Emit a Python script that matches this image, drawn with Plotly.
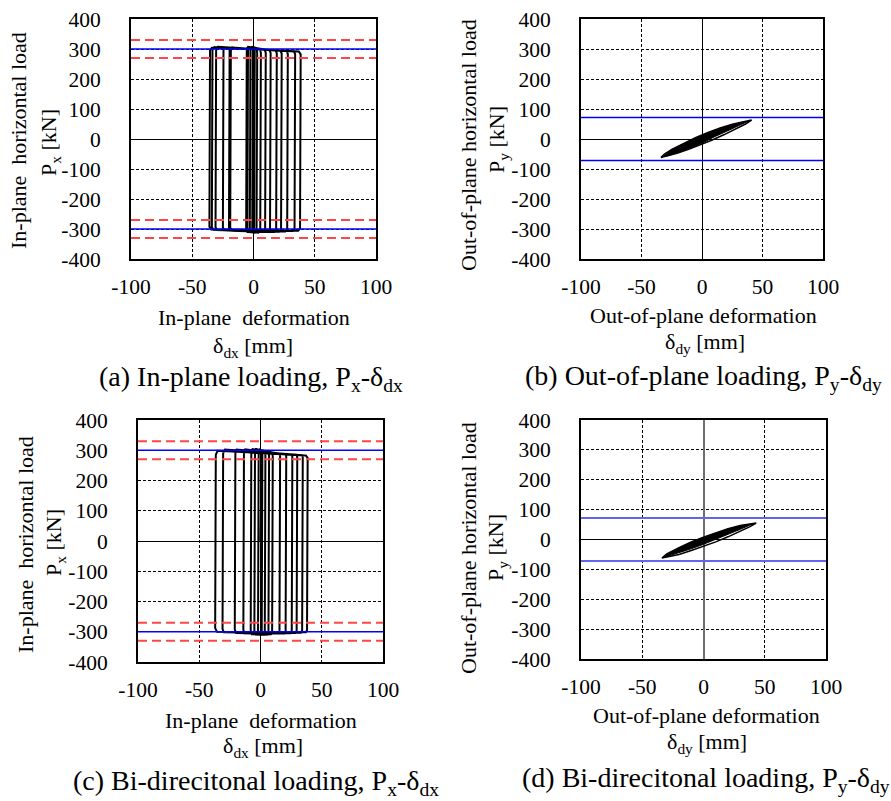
import plotly.graph_objects as go

# ---------------- data ----------------
x_ticks = [-100, -50, 0, 50, 100]
y_ticks = [-400, -300, -200, -100, 0, 100, 200, 300, 400]
x_range = [-100, 100]

# reference levels [kN]
blue_px = [300, -300]
red_px = [330, 270, -270, -330]
blue_py = [72, -72]

# (a) In-plane loading: hysteresis vertices (displacement mm, load kN)
a_disp = [0, 0.5, 1, 0.5, -0.5, -1, -0.5, 0.5, 2.5, 3, 2.5, 1, -2.5, -3,
          -2.5, -1, 5, 6, 5.5, 4, -4, -5, -4.5, -3.5, 9, 10, 9.5, 8, -5, -6,
          -5.5, -4.5, 13, 14, 13.5, 12, -17.5, -19, -18.5, -17, 18, 19, 18.5, 17,
          -18.5, -20, -19.5, -18, 22, 23, 22.5, 21, -23.5, -25, -24.5, -23, 27, 28,
          27.5, 26, -29.5, -31, -30.5, -29, 33, 34, 33.5, 32, -32.5, -34, -33.5, -32,
          37, 38.5, 38, 36.5, -34.5, -36, -35.5, -34, -2]
a_load = [0, 295, 290, -305, -310, -300, 300, 305, 298, 288, -305, -312, -310, -300,
          300, 307, 300, 288, -305, -312, -310, -300, 298, 306, 298, 288, -303, -310, -310, -298,
          300, 307, 296, 287, -303, -310, -306, -296, 298, 305, 295, 286, -302, -310,
          -306, -296, 298, 305, 294, 285, -302, -309, -305, -295, 298, 306, 293, 284,
          -302, -308, -304, -294, 298, 307, 292, 283, -300, -307, -303, -293, 298, 306,
          292, 282, -298, -306, -302, -292, 296, 304, 300]

# (c) Bi-directional loading, in-plane component
c_disp = [0, 1, 1.5, 1, 0, -1.5, -2, -1.5, -0.5, 3.5, 4, 3.5, 2.5, -4, -5,
          -4.5, -3.5, 6.5, 7, 6.5, 5.5, -7, -8, -7.5, -6.5, 9.5, 10, 9.5, 8.5, -4, -5,
          -4.5, -3.5, 15.5, 16, 15.5, 14.5, -13, -14, -13.5, -12.5, 20.5, 21, 20.5, 19.5,
          -20, -21, -20.5, -19.5, 25.5, 26, 25.5, 24.5, -30, -31, -30.5, -29, 29.5, 30,
          29.5, 28.5, -30, -31, -30.5, -29, 34, 34.5, 34, 33, -35.5, -37, -36.5, -35,
          37, 38.5, 38, 37, -30]
c_load = [0, 292, 285, -300, -310, -305, -295, 295, 302, 292, 283, -300, -310, -308, -296,
          296, 303, 290, 282, -300, -310, -308, -296, 296, 304, 290, 281, -300, -308, -310, -298,
          296, 304, 288, 280, -298, -306, -306, -294, 294, 303, 287, 279, -298, -306,
          -304, -292, 292, 302, 286, 278, -297, -305, -302, -290, 290, 302, 285, 277,
          -297, -304, -302, -290, 290, 302, 284, 276, -296, -303, -300, -288, 285, 298,
          283, 275, -294, -302, -302]

# (b) Out-of-plane loading: largest loop outline and filled inner loops
b_outer_disp = [-34, -31, -25, -15, -5, 5, 15, 25, 33, 41,
                36, 28, 18, 8, 0, -10, -20, -28, -34]
b_outer_load = [-62, -50, -35, -14, 5, 22, 37, 49, 57, 63,
                50, 33, 14, -4, -18, -33, -47, -57, -62]
b_inner_disp = [-32, -25, -15, -5, 5, 15, 25, 33, 38, 30, 20, 10, 2, -10, -20, -28, -32]
b_inner_load = [-58, -36, -15, 4, 21, 36, 48, 56, 59, 43, 25, 7, -10, -31, -46, -56, -58]

# (d) Bi-directional loading, out-of-plane component
d_outer_disp = [-34, -30, -20, -10, 0, 10, 20, 30, 38, 43,
                38, 30, 20, 10, 0, -10, -20, -28, -34]
d_outer_load = [-62, -48, -27, -8, 8, 23, 36, 47, 53, 55,
                43, 27, 9, -8, -23, -37, -50, -58, -62]
d_inner_disp = [-32, -28, -20, -10, 0, 10, 20, 30, 38, 40, 30, 20, 10, 0, -10, -20, -30, -32]
d_inner_load = [-58, -46, -28, -9, 7, 22, 35, 46, 52, 52, 34, 17, 0, -16, -31, -45, -57, -58]

# ---------------- figure ----------------
FONT = "Liberation Serif"
W, H = 891, 801

fig = go.Figure()

panels = {
    # name: (x domain px, y domain px (top, bottom))
    "1": ((131, 376), (19, 259)),
    "2": ((581, 823), (19, 259)),
    "3": ((138, 383), (420, 662)),
    "4": ((581, 826), (420, 659)),
}

def ax_suffix(k):
    return "" if k == "1" else k

for k, ((x0, x1), (yt, yb)) in panels.items():
    s = ax_suffix(k)
    common = dict(
        showline=True, mirror=True, linecolor="black", linewidth=2,
        showgrid=True, gridcolor="black", gridwidth=1, griddash="3px,2px",
        zeroline=True, zerolinecolor="black", zerolinewidth=1,
        ticks="", tickfont=dict(family=FONT, size=21.5, color="black"),
        fixedrange=True, automargin=False,
    )
    xz = dict(zerolinecolor="rgb(110,110,110)", zerolinewidth=2) if k == "4" else {}
    xc = dict(common, **xz)
    fig.update_layout(**{
        "xaxis" + s: dict(domain=[x0 / W, x1 / W], range=x_range, tickvals=x_ticks,
                          ticktext=[str(v) for v in x_ticks], anchor="y" + s,
                          ticklabelstandoff=7, **xc),
        "yaxis" + s: dict(domain=[1 - yb / H, 1 - yt / H], range=[-400, 400], tickvals=y_ticks,
                          ticktext=[str(v) for v in y_ticks], anchor="x" + s,
                          ticklabelstandoff=24, **common),
    })

def add_line(xs, ys, k, **kw):
    s = ax_suffix(k)
    fig.add_trace(go.Scatter(x=xs, y=ys, mode="lines", xaxis="x" + s, yaxis="y" + s,
                             showlegend=False, hoverinfo="skip", **kw))

# loops
add_line(a_disp, a_load, "1", line=dict(color="black", width=2))
add_line(c_disp, c_load, "3", line=dict(color="black", width=2))
add_line(b_inner_disp, b_inner_load, "2", fill="toself", fillcolor="black",
         line=dict(color="black", width=1))
add_line(b_outer_disp, b_outer_load, "2", line=dict(color="black", width=1.5))
add_line(d_inner_disp, d_inner_load, "4", fill="toself", fillcolor="black",
         line=dict(color="black", width=1))
add_line(d_outer_disp, d_outer_load, "4", line=dict(color="black", width=1.5))

# reference levels
for k in ("1", "3"):
    for v in red_px:
        add_line(x_range, [v, v], k, line=dict(color="rgb(255,70,70)", width=2, dash="9px,5px"))
    for v in blue_px:
        add_line(x_range, [v, v], k, line=dict(color="rgb(0,0,255)", width=1.5))
for k, col, w in (("2", "rgb(0,0,255)", 1.5), ("4", "rgb(100,100,240)", 2)):
    for v in blue_py:
        add_line(x_range, [v, v], k, line=dict(color=col, width=w))

# text annotations (pixel positions -> paper)
def ann(text, px, py, size=22, angle=0):
    fig.add_annotation(text=text, x=px / W, y=1 - py / H, xref="paper", yref="paper",
                       xanchor="center", yanchor="middle", showarrow=False, textangle=angle,
                       borderpad=0, font=dict(family=FONT, size=size, color="black"))

CAP = 28
# panel (a)
ann("In-plane  horizontal load", 18, 141, angle=-90)
ann("P<sub>x</sub> [kN]", 50, 143, angle=-90)
ann("In-plane  deformation", 254, 317)
ann("δ<sub>dx</sub> [mm]", 253, 347)
ann("(a) In-plane loading, P<sub>x</sub>-δ<sub>dx</sub>", 251, 378, size=CAP)
# panel (b)
ann("Out-of-plane horizontal load", 468, 145, angle=-90)
ann("P<sub>y</sub> [kN]", 498, 140, angle=-90)
ann("Out-of-plane deformation", 703, 315)
ann("δ<sub>dy</sub> [mm]", 705, 343)
ann("(b) Out-of-plane loading, P<sub>y</sub>-δ<sub>dy</sub>", 703, 377, size=CAP)
# panel (c)
ann("In-plane  horizontal load", 25, 545, angle=-90)
ann("P<sub>x</sub> [kN]", 55, 543, angle=-90)
ann("In-plane  deformation", 261, 720)
ann("δ<sub>dx</sub> [mm]", 263, 747)
ann("(c) Bi-direcitonal loading, P<sub>x</sub>-δ<sub>dx</sub>", 256, 782, size=CAP)
# panel (d)
ann("Out-of-plane horizontal load", 468, 548, angle=-90)
ann("P<sub>y</sub> [kN]", 497, 548, angle=-90)
ann("Out-of-plane deformation", 706, 715)
ann("δ<sub>dy</sub> [mm]", 707, 743)
ann("(d) Bi-direcitonal loading, P<sub>y</sub>-δ<sub>dy</sub>", 706, 779, size=CAP)

fig.update_layout(width=W, height=H, autosize=False,
                  margin=dict(l=0, r=0, t=0, b=0),
                  paper_bgcolor="white", plot_bgcolor="white",
                  font=dict(family=FONT, color="black"))

fig.write_html("out.html",
               config={"displayModeBar": False},
               post_script="document.body.style.margin='0px';"
                           "document.body.style.padding='0px';"
                           "document.body.style.overflow='hidden';")
